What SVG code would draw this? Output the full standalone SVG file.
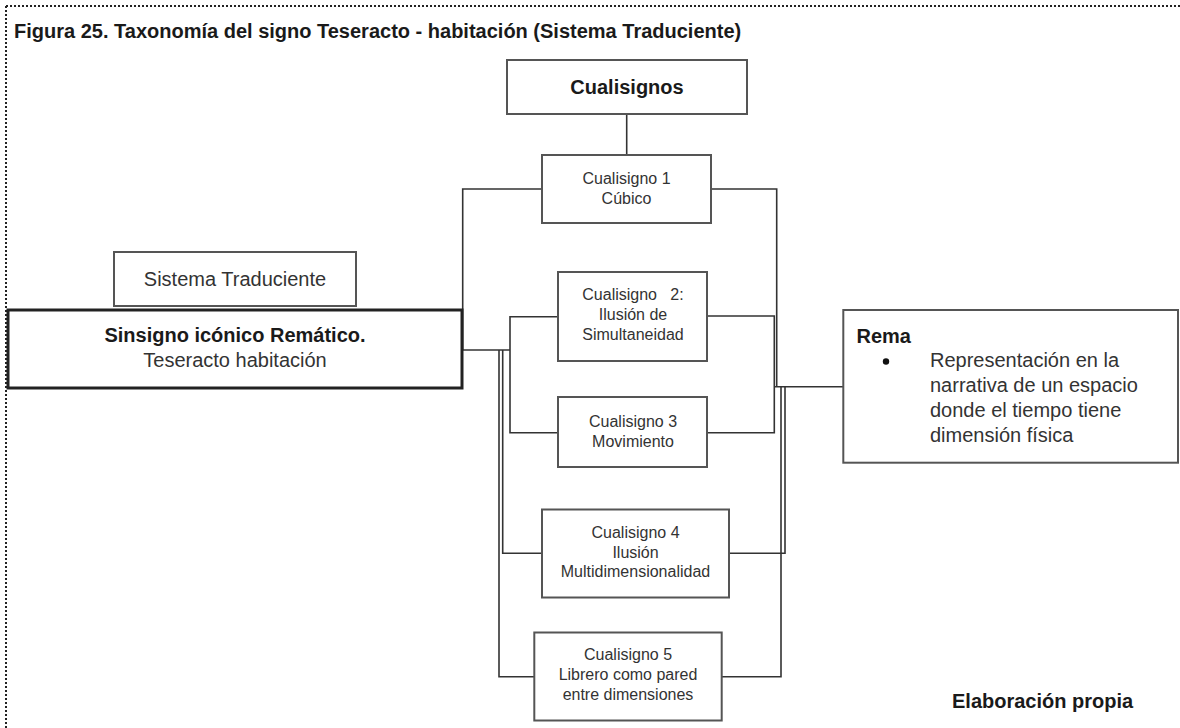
<svg xmlns="http://www.w3.org/2000/svg" width="1180" height="728" viewBox="0 0 1180 728">
<style>
.bg{fill:#fff}
.frame{stroke:#222;stroke-width:2;stroke-dasharray:2 2;fill:none}
.box{fill:#fff;stroke:#555;stroke-width:2}
.boxb{fill:#fff;stroke:#222;stroke-width:3}
.ln{fill:none;stroke:#333;stroke-width:1.6}
text{font-family:"Liberation Sans",Arial,sans-serif;fill:#333}
.t20{font-size:20px}
.t16{font-size:16px}
.b{font-weight:bold;fill:#1a1a1a}
.c{text-anchor:middle}
</style>
<rect class="bg" x="0" y="0" width="1180" height="728"/>
<path class="frame" d="M6,6 H1180 M6,6 V728"/>
<text class="t20 b" x="14" y="38">Figura 25. Taxonomía del signo Teseracto - habitación (Sistema Traduciente)</text>

<g id="connectors">
<path class="ln" d="M626.7,114 V155"/>
<path class="ln" d="M542,189 H462.7 V350"/>
<path class="ln" d="M462,350 H510"/>
<path class="ln" d="M558,316.7 H510 V432.7 H558"/>
<path class="ln" d="M502.7,350 V553.3 H542"/>
<path class="ln" d="M499,350 V676.7 H534.3"/>
<path class="ln" d="M711,189 H776.7 V386.7"/>
<path class="ln" d="M707,316 H774.3 V432.7 H707"/>
<path class="ln" d="M774,386.7 H843"/>
<path class="ln" d="M729,553.3 H785 V386.7"/>
<path class="ln" d="M721.7,676.7 H781 V386.7"/>
</g>

<g id="cualisignos">
<rect class="box" x="507" y="60" width="240" height="54"/>
<text class="t20 b c" x="627" y="94">Cualisignos</text>
</g>

<g id="sistema">
<rect class="box" x="114" y="252" width="242" height="54"/>
<text class="t20 c" x="235" y="286">Sistema Traduciente</text>
</g>

<g id="sinsigno">
<rect class="boxb" x="8" y="310" width="454" height="78"/>
<text class="t20 b c" x="235" y="342">Sinsigno icónico Remático.</text>
<text class="t20 c" x="235" y="367">Teseracto habitación</text>
</g>

<g id="c1">
<rect class="box" x="542" y="155" width="169" height="68"/>
<text class="t16 c" x="626.5" y="184">Cualisigno 1</text>
<text class="t16 c" x="626.5" y="204">Cúbico</text>
</g>

<g id="c2">
<rect class="box" x="558" y="272" width="149" height="89"/>
<text class="t16 c" x="633" y="300" xml:space="preserve">Cualisigno   2:</text>
<text class="t16 c" x="633" y="320">Ilusión de</text>
<text class="t16 c" x="633" y="340">Simultaneidad</text>
</g>

<g id="c3">
<rect class="box" x="558" y="397" width="149" height="70"/>
<text class="t16 c" x="633" y="427">Cualisigno 3</text>
<text class="t16 c" x="633" y="446.5">Movimiento</text>
</g>

<g id="c4">
<rect class="box" x="542" y="509.5" width="187" height="88"/>
<text class="t16 c" x="635.5" y="538">Cualisigno 4</text>
<text class="t16 c" x="635.5" y="557.5">Ilusión</text>
<text class="t16 c" x="635.5" y="577">Multidimensionalidad</text>
</g>

<g id="c5">
<rect class="box" x="534.3" y="632.5" width="187.4" height="88"/>
<text class="t16 c" x="628" y="660">Cualisigno 5</text>
<text class="t16 c" x="628" y="680">Librero como pared</text>
<text class="t16 c" x="628" y="699.5">entre dimensiones</text>
</g>

<g id="rema">
<rect class="box" x="843.3" y="310" width="334.7" height="152.7"/>
<text class="t20 b" x="856.5" y="343">Rema</text>
<circle cx="886" cy="361.5" r="3.2" fill="#111"/>
<text class="t20" x="930" y="367">Representación en la</text>
<text class="t20" x="930" y="392">narrativa de un espacio</text>
<text class="t20" x="930" y="417">donde el tiempo tiene</text>
<text class="t20" x="930" y="442">dimensión física</text>
</g>

<g id="footer">
<text class="t20 b" x="952" y="708">Elaboración propia</text>
</g>
</svg>
